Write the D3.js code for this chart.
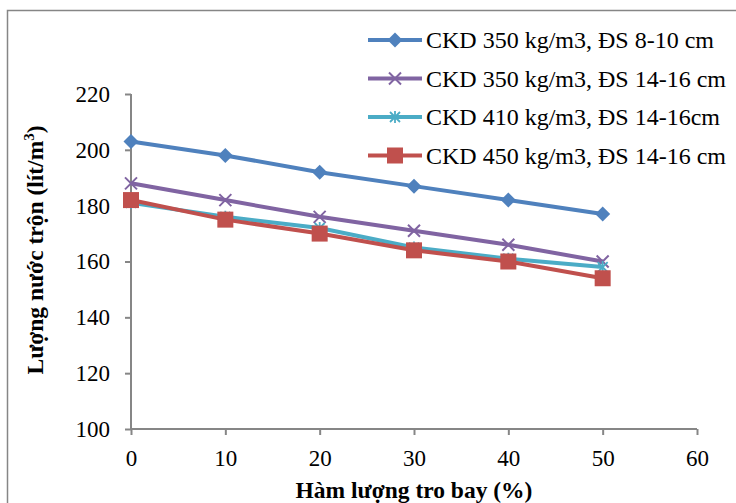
<!DOCTYPE html>
<html>
<head>
<meta charset="utf-8">
<script src="https://cdn.jsdelivr.net/npm/d3@7"></script>
<style>
  body { margin: 0; background: #fff; }
  svg { display: block; }
  text { font-family: "Liberation Serif", "Times New Roman", serif; fill: #000; }
</style>
</head>
<body>
<div id="container"></div>
<script>
// chart data
let xValues = [0, 10, 20, 30, 40, 50];
let seriesNames = [
  "CKD 350 kg/m3, ĐS 8-10 cm",
  "CKD 350 kg/m3, ĐS 14-16 cm",
  "CKD 410 kg/m3, ĐS 14-16cm",
  "CKD 450 kg/m3, ĐS 14-16 cm"
];
let blueValues = [203, 198, 192, 187, 182, 177];
let purpleValues = [188, 182, 176, 171, 166, 160];
let cyanValues = [181, 176, 172, 165, 161, 158];
let redValues = [182, 175, 170, 164, 160, 154];
let xTicks = [0, 10, 20, 30, 40, 50, 60];
let yTicks = [100, 120, 140, 160, 180, 200, 220];
let xTitle = "Hàm lượng tro bay (%)";

let width = 736, height = 503;
let plotLeft = 131, plotRight = 697, plotTop = 94, plotBottom = 429;
let fontSize = "23px";

let series = [
  { name: seriesNames[0], values: blueValues, color: "#4F81BD", marker: "diamond" },
  { name: seriesNames[1], values: purpleValues, color: "#8064A2", marker: "x" },
  { name: seriesNames[2], values: cyanValues, color: "#4BACC6", marker: "star" },
  { name: seriesNames[3], values: redValues, color: "#C0504D", marker: "square" }
];

let svg = d3.select("#container").append("svg")
  .attr("width", width).attr("height", height);

// outer chart border
svg.append("rect")
  .attr("x", 7.5).attr("y", 10.5)
  .attr("width", 760).attr("height", 520)
  .attr("fill", "none").attr("stroke", "#868686").attr("stroke-width", 1.5);

let x = d3.scaleLinear().domain([0, 60]).range([plotLeft, plotRight]);
let y = d3.scaleLinear().domain([100, 220]).range([plotBottom, plotTop]);

// axes
let xAxis = svg.append("g")
  .attr("transform", "translate(0," + plotBottom + ")")
  .call(d3.axisBottom(x).tickValues(xTicks).tickSize(6).tickPadding(15));
let yAxis = svg.append("g")
  .attr("transform", "translate(" + plotLeft + ",0)")
  .call(d3.axisLeft(y).tickValues(yTicks).tickSize(6).tickPadding(15));

[xAxis, yAxis].forEach(function(g) {
  g.attr("font-family", null).attr("font-size", null);
  g.select(".domain").attr("stroke", "#868686").attr("stroke-width", 2);
  g.selectAll(".tick line").attr("stroke", "#868686").attr("stroke-width", 2);
  g.selectAll(".tick text").style("font-size", fontSize).attr("fill", "#000");
});
// domain without outer-tick hooks
xAxis.select(".domain").attr("d", "M" + plotLeft + ",0H" + plotRight);
yAxis.select(".domain").attr("d", "M0," + plotBottom + "V" + plotTop);

// axis titles
svg.append("text")
  .attr("x", 414).attr("y", 498)
  .attr("text-anchor", "middle")
  .style("font-weight", "bold").style("font-size", "23.5px")
  .text(xTitle);

let yt = svg.append("text")
  .attr("transform", "translate(43,250) rotate(-90)")
  .attr("text-anchor", "middle")
  .style("font-weight", "bold").style("font-size", "23.5px");
yt.append("tspan").text("Lượng nước trộn (lít/m");
yt.append("tspan").attr("dy", "-9").style("font-size", "15px").text("3");
yt.append("tspan").attr("dy", "9").text(")");

function drawMarker(g, type, color) {
  if (type === "diamond") {
    g.append("path").attr("d", "M0,-7.5L7.5,0L0,7.5L-7.5,0Z").attr("fill", color);
  } else if (type === "square") {
    g.append("rect").attr("x", -8).attr("y", -8).attr("width", 16).attr("height", 16).attr("fill", color);
  } else if (type === "x") {
    g.append("path").attr("d", "M-6,-6L6,6M-6,6L6,-6")
      .attr("stroke", color).attr("stroke-width", 2).attr("fill", "none");
  } else if (type === "star") {
    g.append("path").attr("d", "M-5,-5L5,5M-5,5L5,-5M0,-6V6")
      .attr("stroke", color).attr("stroke-width", 1.8).attr("fill", "none");
  }
}

let line = d3.line()
  .x(function(d) { return x(d[0]); })
  .y(function(d) { return y(d[1]); });

series.forEach(function(s) {
  let pts = xValues.map(function(v, i) { return [v, s.values[i]]; });
  svg.append("path")
    .datum(pts)
    .attr("d", line)
    .attr("fill", "none")
    .attr("stroke", s.color)
    .attr("stroke-width", 4)
    .attr("stroke-linejoin", "round");
  pts.forEach(function(p) {
    let g = svg.append("g").attr("transform", "translate(" + x(p[0]) + "," + y(p[1]) + ")");
    drawMarker(g, s.marker, s.color);
  });
});

// legend
let legend = svg.append("g");
series.forEach(function(s, i) {
  let ly = 40 + i * 38.5;
  legend.append("line")
    .attr("x1", 368).attr("x2", 422).attr("y1", ly).attr("y2", ly)
    .attr("stroke", s.color).attr("stroke-width", 4);
  let g = legend.append("g").attr("transform", "translate(395," + ly + ")");
  drawMarker(g, s.marker, s.color);
  legend.append("text")
    .attr("x", 426).attr("y", ly).attr("dy", "0.35em")
    .style("font-size", "24px")
    .text(s.name);
});
</script>
</body>
</html>
